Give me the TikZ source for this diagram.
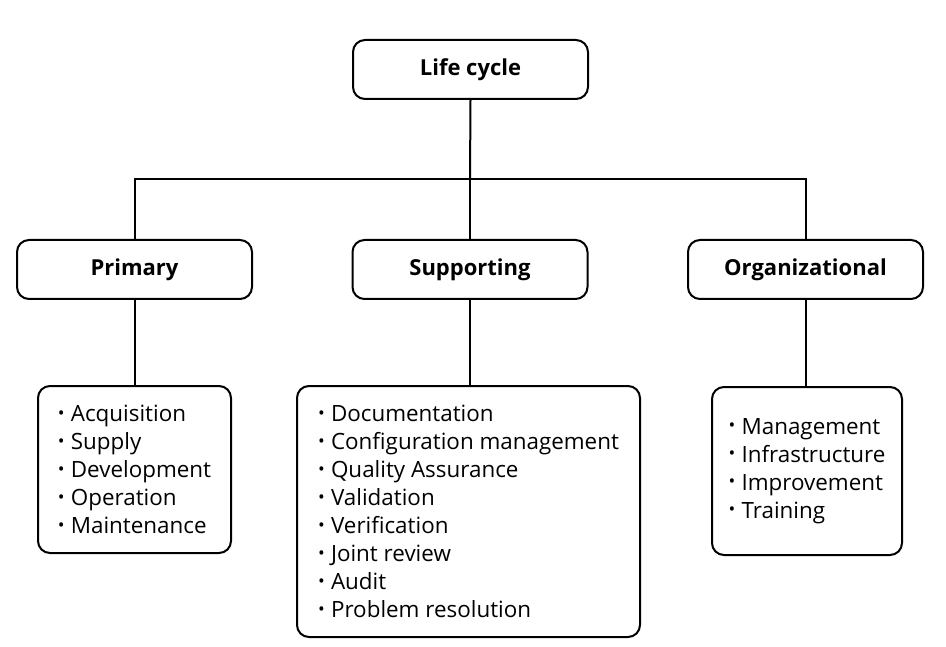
\documentclass[tikz,border=0pt]{standalone}
\usepackage{fontspec}
\setmainfont{Open Sans}
\usetikzlibrary{calc}

\newcommand{\itm}{\makebox[13pt][l]{\raisebox{0.2ex}{\scalebox{0.8}{\textbullet}}}}

\begin{document}
\begin{tikzpicture}[x=1pt, y=-1pt, line width=2pt,
    hdr/.style={draw, rounded corners=12pt, minimum width=235pt, minimum height=59pt,
        inner sep=0pt, font=\fontsize{22}{26}\selectfont\bfseries},
    lst/.style={draw, rounded corners=12pt, inner sep=0pt, align=left,
        font=\fontsize{22.4}{28}\selectfont}]
    \useasboundingbox (0, 0) rectangle (946, 647);

    % top of the tree
    \node[hdr] (lc) at (470.5, 69.5) {Life cycle};
    \coordinate (bar) at (470, 179);

    % the three groups
    \node[hdr] (prim) at (134.5, 269.5) {Primary};
    \node[hdr] (sup) at (470, 269.5) {Supporting};
    \node[hdr] (org) at (805.5, 269.5) {Organizational};

    % what each group holds
    \node[lst, minimum width=193pt, minimum height=167pt] (primlst) at (134.5, 469.5)
        {\itm Acquisition\\ \itm Supply\\ \itm Development\\ \itm Operation\\ \itm Maintenance};
    \node[lst, minimum width=343pt, minimum height=251pt] (suplst) at (468.5, 511.5)
        {\itm Documentation\\ \itm Configuration management\\ \itm Quality Assurance\\
         \itm Validation\\ \itm Verification\\ \itm Joint review\\ \itm Audit\\
         \itm Problem resolution};
    \node[lst, minimum width=190pt, minimum height=168pt] (orglst) at (807, 471)
        {\itm Management\\ \itm Infrastructure\\ \itm Improvement\\ \itm Training};

    % connectors
    \draw (lc.south) -- (bar);
    \draw (prim.north) |- (bar) -| (org.north);
    \draw (bar) -- (sup.north);
    \draw (prim.south) -- (prim.south |- primlst.north);
    \draw (sup.south) -- (sup.south |- suplst.north);
    \draw (org.south) -- (org.south |- orglst.north);

\end{tikzpicture}
\end{document}
